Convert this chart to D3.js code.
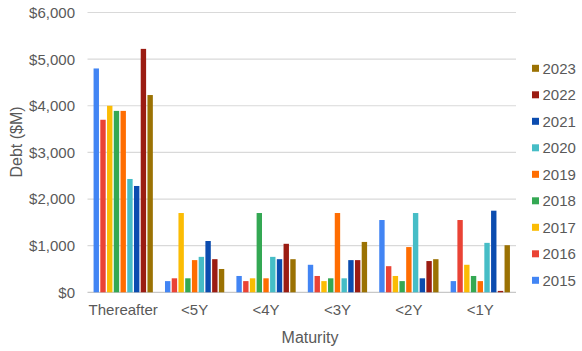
<!DOCTYPE html>
<html>
<head>
<meta charset="utf-8">
<script src="https://cdn.jsdelivr.net/npm/d3@7"></script>
<style>
  body { margin: 0; background: #fff; }
  text { font-family: "Liberation Sans", Arial, sans-serif; fill: #595959; }
</style>
</head>
<body>
<script>
var categories = ["Thereafter", "<5Y", "<4Y", "<3Y", "<2Y", "<1Y"];
var years = ["2015", "2016", "2017", "2018", "2019", "2020", "2021", "2022", "2023"];
var colors = ["#4285F4", "#EA4335", "#FBBC04", "#34A853", "#FF6D01", "#46BDC6", "#0B4CAF", "#9B1C12", "#9B7203"];

// debt per year, one value per maturity bucket
var d2015 = [4800, 240, 350, 590, 1550, 240];
var d2016 = [3700, 300, 240, 350, 560, 1550];
var d2017 = [4000, 1700, 300, 240, 350, 590];
var d2018 = [3890, 300, 1700, 300, 240, 350];
var d2019 = [3890, 690, 300, 1700, 970, 240];
var d2020 = [2430, 760, 760, 300, 1700, 1060];
var d2021 = [2280, 1100, 710, 690, 300, 1750];
var d2022 = [5220, 710, 1040, 690, 670, 30];
var d2023 = [4230, 500, 710, 1080, 710, 1010];
var series = [d2015, d2016, d2017, d2018, d2019, d2020, d2021, d2022, d2023];

var yTicks = [0, 1000, 2000, 3000, 4000, 5000, 6000];

var width = 582, height = 351;
var plot = { left: 87.5, right: 516, top: 12.5, bottom: 292.3 };

var svg = d3.select("body").append("svg")
  .attr("width", width)
  .attr("height", height);

var x0 = d3.scaleBand()
  .domain(categories)
  .range([plot.left, plot.right])
  .paddingInner(0.17)
  .paddingOuter(0.085);

var x1 = d3.scaleBand()
  .domain(years)
  .range([0, x0.bandwidth()])
  .paddingInner(0.2)
  .paddingOuter(0);

var y = d3.scaleLinear()
  .domain([0, 6000])
  .range([plot.bottom, plot.top]);

var color = d3.scaleOrdinal().domain(years).range(colors);

// gridlines
svg.append("g").selectAll("line")
  .data(yTicks)
  .join("line")
  .attr("x1", plot.left)
  .attr("x2", plot.right)
  .attr("y1", function(d) { return y(d); })
  .attr("y2", function(d) { return y(d); })
  .attr("stroke", function(d) { return d === 0 ? "#c8c8c8" : "#d9d9d9"; })
  .attr("stroke-width", 1.2);

// y tick labels
svg.append("g").selectAll("text")
  .data(yTicks)
  .join("text")
  .attr("x", 75)
  .attr("y", function(d) { return y(d); })
  .attr("dy", "0.36em")
  .attr("text-anchor", "end")
  .attr("font-size", 15)
  .text(function(d) { return "$" + d3.format(",")(d); });

// bars
var rows = categories.map(function(c, i) {
  return { cat: c, vals: years.map(function(yr, j) { return { year: yr, value: series[j][i] }; }) };
});

svg.append("g").selectAll("g")
  .data(rows)
  .join("g")
  .attr("transform", function(d) { return "translate(" + x0(d.cat) + ",0)"; })
  .selectAll("rect")
  .data(function(d) { return d.vals; })
  .join("rect")
  .attr("x", function(d) { return x1(d.year); })
  .attr("width", x1.bandwidth())
  .attr("y", function(d) { return y(d.value); })
  .attr("height", function(d) { return y(0) - y(d.value); })
  .attr("fill", function(d) { return color(d.year); });

// x labels
svg.append("g").selectAll("text")
  .data(categories)
  .join("text")
  .attr("x", function(d) { return x0(d) + x0.bandwidth() / 2; })
  .attr("y", 315)
  .attr("text-anchor", "middle")
  .attr("font-size", 15)
  .text(function(d) { return d; });

// axis titles
svg.append("text")
  .attr("x", 310)
  .attr("y", 343)
  .attr("text-anchor", "middle")
  .attr("font-size", 16)
  .text("Maturity");

svg.append("text")
  .attr("transform", "translate(22,142) rotate(-90)")
  .attr("text-anchor", "middle")
  .attr("font-size", 16)
  .text("Debt ($M)");

// legend, newest year on top
var legendYears = years.slice().reverse();
var legend = svg.append("g").selectAll("g")
  .data(legendYears)
  .join("g")
  .attr("transform", function(d, i) { return "translate(532," + (68.3 + i * 26.5) + ")"; });

legend.append("rect")
  .attr("x", 0)
  .attr("y", -3.5)
  .attr("width", 7)
  .attr("height", 7)
  .attr("fill", function(d) { return color(d); });

legend.append("text")
  .attr("x", 10.5)
  .attr("dy", "0.36em")
  .attr("font-size", 15)
  .text(function(d) { return d; });
</script>
</body>
</html>
